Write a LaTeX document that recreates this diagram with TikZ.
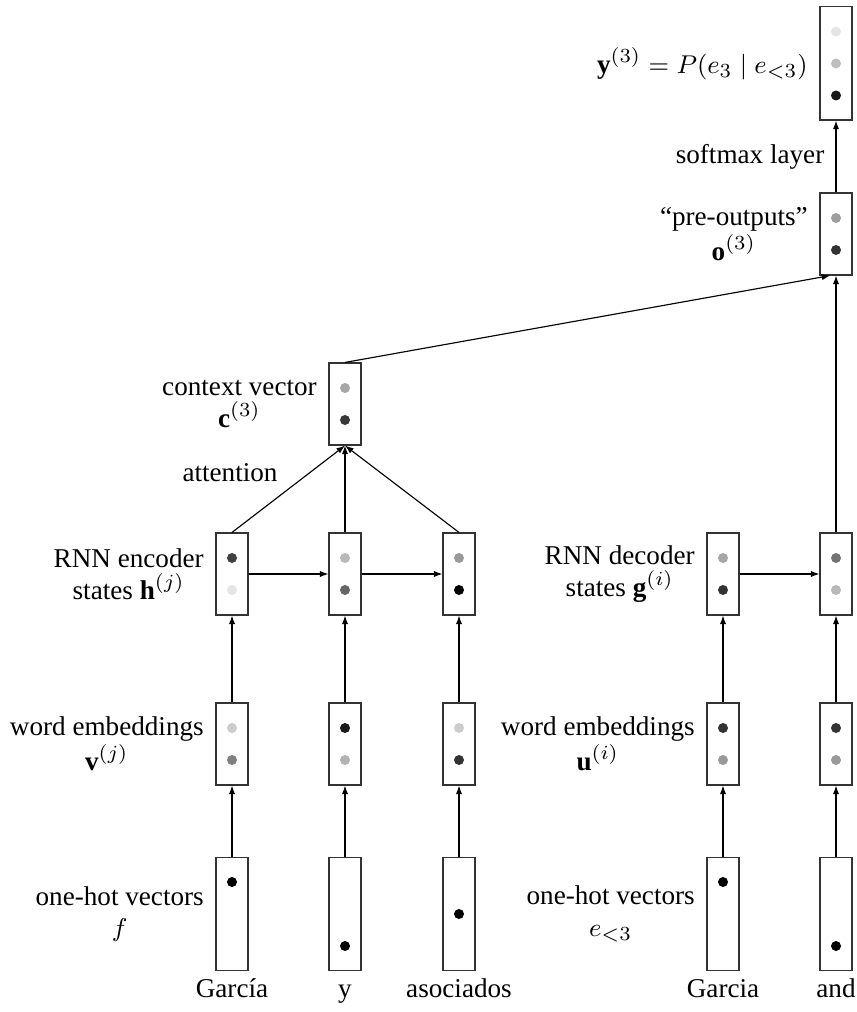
\documentclass[tikz,border=0pt]{standalone}
\usepackage{fontspec}
\setmainfont{Liberation Serif}
\usetikzlibrary{arrows.meta,positioning}

% one coloured entry of a vector box, offset vertically from its centre
\newcommand{\entry}[3]{\fill[#3] (#1.center) ++(0,#2) circle[radius=1.75pt];}

\begin{document}
\begin{tikzpicture}[x=0.35pt,y=-0.35pt,
    font=\fontsize{9.5}{11}\selectfont,
    vecbox/.style={draw=black!80, line width=0.4pt, minimum width=11.2pt,
                   minimum height=28.7pt, inner sep=0pt},
    tallbox/.style={vecbox, minimum height=39.6pt},
    lab/.style={align=center, inner sep=0pt},
    word/.style={inner sep=0pt, anchor=base},
    conn/.style={line width=0.4pt, -{Latex[length=3pt,width=2.2pt]}}]
  \useasboundingbox (0,0) rectangle (857,1012);

  % encoder side: one-hot vectors, embeddings, RNN states
  \node[tallbox] (f1) at (232,914) {};
  \node[tallbox] (f2) at (345,914) {};
  \node[tallbox] (f3) at (459,914) {};
  \node[vecbox] (v1) at (232,744) {};
  \node[vecbox] (v2) at (345,744) {};
  \node[vecbox] (v3) at (459,744) {};
  \node[vecbox] (h1) at (232,574) {};
  \node[vecbox] (h2) at (345,574) {};
  \node[vecbox] (h3) at (459,574) {};
  \node[vecbox] (c)  at (345,404) {};

  % decoder side
  \node[tallbox] (e1) at (723,914) {};
  \node[tallbox] (e2) at (836,914) {};
  \node[vecbox] (u1) at (723,744) {};
  \node[vecbox] (u2) at (836,744) {};
  \node[vecbox] (g1) at (723,574) {};
  \node[vecbox] (g2) at (836,574) {};
  \node[vecbox] (o)  at (836,234) {};
  \node[tallbox] (y) at (836,63.5) {};

  % vector entries
  \entry{f1}{-32}{black}
  \entry{f2}{32}{black}
  \entry{f3}{0}{black}
  \entry{e1}{-32}{black}
  \entry{e2}{32}{black}

  \entry{v1}{-16}{black!20}  \entry{v1}{16}{black!50}
  \entry{v2}{-16}{black!90}  \entry{v2}{16}{black!30}
  \entry{v3}{-16}{black!20}  \entry{v3}{16}{black!80}
  \entry{u1}{-16}{black!80}  \entry{u1}{16}{black!40}
  \entry{u2}{-16}{black!80}  \entry{u2}{16}{black!40}

  \entry{h1}{-16}{black!75}  \entry{h1}{16}{black!10}
  \entry{h2}{-16}{black!28}  \entry{h2}{16}{black!60}
  \entry{h3}{-16}{black!40}  \entry{h3}{16}{black}
  \entry{g1}{-16}{black!35}  \entry{g1}{16}{black!80}
  \entry{g2}{-16}{black!55}  \entry{g2}{16}{black!28}

  \entry{c}{-16}{black!35}   \entry{c}{16}{black!78}
  \entry{o}{-16}{black!38}   \entry{o}{16}{black!80}
  \entry{y}{-32}{black!10}   \entry{y}{0}{black!25}   \entry{y}{32}{black!90}

  % labels
  \node[lab, left=3.9pt of f1] {one-hot vectors\\$f$};
  \node[lab, left=3.9pt of v1] {word embeddings\\$\mathbf{v}^{(j)}$};
  \node[lab, left=3.9pt of h1] {RNN encoder\\states $\mathbf{h}^{(j)}$};
  \node[lab, left=3.9pt of c]  {context vector\\$\mathbf{c}^{(3)}$};
  \node[lab, left=3.9pt of e1] {one-hot vectors\\$e_{<3}$};
  \node[lab, left=3.9pt of u1] {word embeddings\\$\mathbf{u}^{(i)}$};
  \node[lab, left=3.9pt of g1] {RNN decoder\\states $\mathbf{g}^{(i)}$};
  \node[lab, left=3.9pt of o]  {“pre-outputs”\\$\mathbf{o}^{(3)}$};
  \node[lab, left=3.9pt of y]  {$\mathbf{y}^{(3)} = P(e_3 \mid e_{<3})$};
  \node[lab] (att) at (230,473) {attention};

  % source and target words
  \node[word] (w1) at (232,997) {García};
  \node[word] (w2) at (345,997) {y};
  \node[word] (w3) at (459,997) {asociados};
  \node[word] (w4) at (723,997) {Garcia};
  \node[word] (w5) at (836,997) {and};

  % connectors
  \foreach \k in {1,2,3} {
    \draw[conn] (f\k) -- (v\k);
    \draw[conn] (v\k) -- (h\k);
    \draw[conn] (h\k.north) -- (c.south);
  }
  \foreach \k in {1,2} {
    \draw[conn] (e\k) -- (u\k);
    \draw[conn] (u\k) -- (g\k);
  }
  \draw[conn] (h1) -- (h2);
  \draw[conn] (h2) -- (h3);
  \draw[conn] (g1) -- (g2);
  \draw[conn] (g2) -- (o);
  \draw[conn] (c.north) -- ([xshift=-2pt]o.south);
  \draw[conn] (o) -- node[midway, left=3.9pt, inner sep=0pt] {softmax layer} (y);
\end{tikzpicture}
\end{document}
